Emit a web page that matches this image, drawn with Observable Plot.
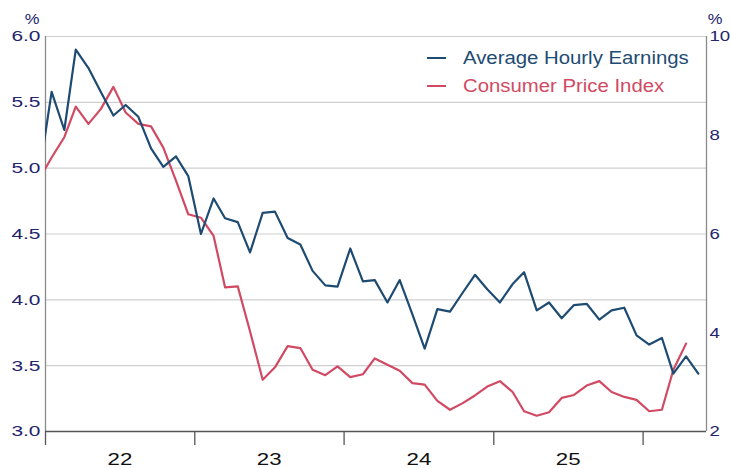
<!DOCTYPE html>
<html>
<head>
<meta charset="utf-8">
<script src="https://cdn.jsdelivr.net/npm/d3@7"></script>
<script src="https://cdn.jsdelivr.net/npm/@observablehq/plot@0.6"></script>
<style>
  html, body { margin: 0; padding: 0; background: #fff; }
  #chart { width: 731px; height: 468px; overflow: hidden; }
</style>
</head>
<body>
<div id="chart"></div>
<script>
// Monthly observations (month of the reading)
const months = [
  "2021-12",
  "2022-01","2022-02","2022-03","2022-04","2022-05","2022-06","2022-07","2022-08","2022-09","2022-10","2022-11","2022-12",
  "2023-01","2023-02","2023-03","2023-04","2023-05","2023-06","2023-07","2023-08","2023-09","2023-10","2023-11","2023-12",
  "2024-01","2024-02","2024-03","2024-04","2024-05","2024-06","2024-07","2024-08","2024-09","2024-10","2024-11","2024-12",
  "2025-01","2025-02","2025-03","2025-04","2025-05","2025-06","2025-07","2025-08","2025-09","2025-10","2025-11","2025-12",
  "2026-01","2026-02","2026-03","2026-04","2026-05"
];
// Average Hourly Earnings, % y/y (left axis)
const aheValues = [
  4.94,
  5.58, 5.29, 5.90, 5.76, 5.58, 5.40, 5.48, 5.39, 5.15, 5.01, 5.09, 4.94,
  4.50, 4.77, 4.62, 4.59, 4.36, 4.66, 4.67, 4.47, 4.42, 4.22, 4.11, 4.10,
  4.39, 4.14, 4.15, 3.98, 4.15, 3.89, 3.63, 3.93, 3.91, 4.05, 4.19, 4.08,
  3.98, 4.12, 4.21, 3.92, 3.98, 3.86, 3.96, 3.97, 3.85, 3.92, 3.94, 3.73,
  3.66, 3.71, 3.44, 3.57, 3.44
];
// Consumer Price Index, % y/y (right axis)
const cpiValues = [
  7.1,
  7.55, 7.96, 8.58, 8.23, 8.53, 8.98, 8.46, 8.23, 8.18, 7.75, 7.08, 6.40,
  6.33, 5.96, 4.92, 4.94, 4.03, 3.05, 3.30, 3.73, 3.69, 3.25, 3.14, 3.32,
  3.10, 3.16, 3.48, 3.35, 3.23, 2.98, 2.95, 2.62, 2.44, 2.57, 2.73, 2.91,
  3.02, 2.80, 2.41, 2.32, 2.39, 2.68, 2.74, 2.93, 3.02, 2.80, 2.70, 2.64,
  2.41, 2.44, 3.25, 3.78
];
const leftTicks = [3.0, 3.5, 4.0, 4.5, 5.0, 5.5, 6.0];
const rightTicks = [2, 4, 6, 8, 10];
const yearStarts = ["2022-01-01", "2023-01-01", "2024-01-01", "2025-01-01", "2026-01-01"];
const yearLabels = ["22", "23", "24", "25"];
const seriesNames = ["Average Hourly Earnings", "Consumer Price Index"];
const seriesColors = ["#1e4b72", "#d14a63"];

const leftDomain = [3, 6];
const rightDomain = [2, 10];
const rightToLeft = v => leftDomain[0] + (v - rightDomain[0]) * (leftDomain[1] - leftDomain[0]) / (rightDomain[1] - rightDomain[0]);
const leftToRight = v => rightDomain[0] + (v - leftDomain[0]) * (rightDomain[1] - rightDomain[0]) / (leftDomain[1] - leftDomain[0]);
const monthDate = m => new Date(m + "-16T00:00:00Z");

const aheData = aheValues.map((v, i) => ({date: monthDate(months[i]), value: v}));
const cpiData = cpiValues.map((v, i) => ({date: monthDate(months[i]), value: rightToLeft(v)}));
const yearTickDates = yearStarts.map(s => new Date(s + "T00:00:00Z"));
const yearLabelDates = yearLabels.map(y => new Date(Date.UTC(2000 + (+y), 6, 2)));
const labelByYear = new Map(yearLabelDates.map((d, i) => [+d, yearLabels[i]]));

const xDomain = [new Date("2022-01-01T00:00:00Z"), new Date("2026-06-05T00:00:00Z")];
const navy = "#23236e";

const chart = Plot.plot({
  width: 731,
  height: 468,
  marginLeft: 45,
  marginRight: 25,
  marginTop: 36,
  marginBottom: 37,
  style: {fontFamily: "'Liberation Sans', Arial, sans-serif", background: "#fff", overflow: "visible"},
  x: {type: "utc", domain: xDomain},
  y: {domain: leftDomain},
  marks: [
    Plot.gridY(leftTicks.slice(1), {stroke: "#cfcfcf", strokeOpacity: 1, strokeWidth: 1.2}),
    Plot.ruleX([xDomain[0]], {stroke: "#8a8a8a", strokeWidth: 1.3}),
    Plot.ruleX([xDomain[1]], {stroke: "#8a8a8a", strokeWidth: 1.3}),
    Plot.ruleY([leftDomain[0]], {stroke: "#555", strokeWidth: 1.3}),
    Plot.axisY(leftTicks, {anchor: "left", tickSize: 0, tickPadding: 5, label: null,
      tickFormat: d => d.toFixed(1), fill: navy, fontSize: 15.5}),
    Plot.axisY(rightTicks.map(rightToLeft), {anchor: "right", tickSize: 0, tickPadding: 3, label: null,
      tickFormat: d => String(Math.round(leftToRight(d))), fill: navy, fontSize: 15.5}),
    Plot.axisX(yearTickDates, {anchor: "bottom", tickSize: 14, stroke: "#555", strokeWidth: 1.3, tickFormat: () => "", label: null}),
    Plot.axisX(yearLabelDates, {anchor: "bottom", tickSize: 0, tickPadding: 22, label: null,
      tickFormat: d => labelByYear.get(+d), fill: "#111", fontSize: 16.5}),
    Plot.lineY(cpiData, {x: "date", y: "value", stroke: seriesColors[1], strokeWidth: 2.2, clip: true}),
    Plot.lineY(aheData, {x: "date", y: "value", stroke: seriesColors[0], strokeWidth: 2.2, clip: true})
  ]
});

const svg = d3.select(chart);
// unit labels
svg.append("text").attr("x", 32).attr("y", 24).attr("text-anchor", "middle")
  .attr("fill", navy).attr("font-size", 15).attr("data-sx", 1.1).text("%");
svg.append("text").attr("x", 715).attr("y", 24).attr("text-anchor", "middle")
  .attr("fill", navy).attr("font-size", 15).attr("data-sx", 1.1).text("%");
// legend
const leg = svg.append("g").attr("class", "legend").attr("text-anchor", "start");
seriesNames.forEach((name, i) => {
  const yb = 64 + i * 28;
  leg.append("line").attr("x1", 427).attr("x2", 446).attr("y1", yb - 6).attr("y2", yb - 6)
    .attr("stroke", seriesColors[i]).attr("stroke-width", 2);
  leg.append("text").attr("x", 463).attr("y", yb).attr("fill", seriesColors[i])
    .attr("text-anchor", "start").attr("font-size", 18.5).attr("data-sx", 1.1).text(name);
});

// horizontal stretch of the lettering, anchored at each label's own anchor point
chart.querySelectorAll("text").forEach(t => {
  const isRight = t.textContent.length <= 2 && /^\d+$/.test(t.textContent) && +t.textContent <= 10 && t.closest("g[aria-label='y-axis tick label']");
  const sx = +(t.getAttribute("data-sx") || (isRight ? 1.2 : (t.textContent.length <= 3 ? 1.35 : 1.1)));
  const x = +(t.getAttribute("x") || 0);
  const tr = t.getAttribute("transform") || "";
  t.setAttribute("transform", `${tr} translate(${x},0) scale(${sx},1) translate(${-x},0)`);
});

document.getElementById("chart").appendChild(chart);
</script>
</body>
</html>
